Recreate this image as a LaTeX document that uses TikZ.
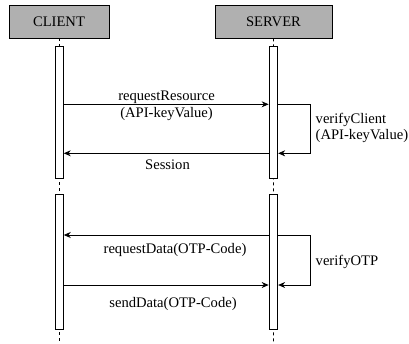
\documentclass[tikz,border=0pt]{standalone}
\usepackage{fontspec}
\setmainfont{Liberation Serif}
\usetikzlibrary{arrows.meta}
\begin{document}
\begin{tikzpicture}[x=1pt,y=-1pt,
  font=\fontsize{14.6}{17}\selectfont,
  actor/.style={draw=black,fill={rgb,255:red,176;green,176;blue,176},line width=0.8pt},
  bar/.style={draw=black,fill=white,line width=0.8pt},
  life/.style={draw=black,dashed,dash pattern=on 3pt off 3pt,line width=0.8pt},
  msg/.style={draw=black,line width=0.8pt,-{Stealth[length=7pt,width=6pt]}},
  lbl/.style={inner sep=0pt,anchor=base},
  rlbl/.style={inner sep=0pt,anchor=base west}]
\useasboundingbox (0,0) rectangle (409,343);
% actors
\node[actor,minimum width=100pt,minimum height=33pt,inner sep=0pt] (client) at (59,21.5) {CLIENT};
\node[actor,minimum width=117pt,minimum height=33pt,inner sep=0pt] (server) at (273.5,21.5) {SERVER};
% lifelines
\coordinate (cend) at (59,343);
\coordinate (send) at (273.4,343);
\draw[life] (client.south) -- (cend);
\draw[life] (server.south) -- (send);
% loop corners
\coordinate (loop1a) at (310.7,104.3);
\coordinate (loop1b) at (310.7,153.3);
\coordinate (loop2a) at (310.7,235);
\coordinate (loop2b) at (310.7,285);
% bars
\node[bar,minimum width=8.3pt,minimum height=131.6pt,inner sep=0pt] (cb1) at (59.2,112.5) {};
\node[bar,minimum width=8.3pt,minimum height=135.3pt,inner sep=0pt] (cb2) at (59.2,261.7) {};
\node[bar,minimum width=8.7pt,minimum height=131.6pt,inner sep=0pt] (sb1) at (273.4,112.5) {};
\node[bar,minimum width=8.7pt,minimum height=135.3pt,inner sep=0pt] (sb2) at (273.4,261.7) {};
% requestData (passes behind the server bar)
\draw[line width=0.8pt] (loop2a) -- (loop2a -| sb2.east);
\draw[msg] (loop2a -| sb2.west) -- (loop2a -| cb2.east);
% messages
\draw[msg] (loop1a -| cb1.east) -- (loop1a -| sb1.west);
\draw[msg] (loop1a -| sb1.east) -- (loop1a) -- (loop1b) -- (loop1b -| sb1.east);
\draw[msg] (loop1b -| sb1.west) -- (loop1b -| cb1.east);
\draw[msg] (loop2a) -- (loop2b) -- (loop2b -| sb2.east);
\draw[msg] (loop2b -| cb2.east) -- (loop2b -| sb2.west);
% labels
\node[lbl] (l1) at (166.5,100.7) {requestResource};
\node[lbl] (l2) at (166.5,117.3) {(API-keyValue)};
\node[rlbl] (l3) at (315.5,123.3) {verifyClient};
\node[rlbl] (l4) at (315.5,139.3) {(API-keyValue)};
\node[lbl] (l5) at (167.5,169.3) {Session};
\node[lbl] (l6) at (175,253.3) {requestData(OTP-Code)};
\node[rlbl] (l7) at (315.5,265) {verifyOTP};
\node[lbl] (l8) at (173,307.3) {sendData(OTP-Code)};
\end{tikzpicture}
\end{document}
